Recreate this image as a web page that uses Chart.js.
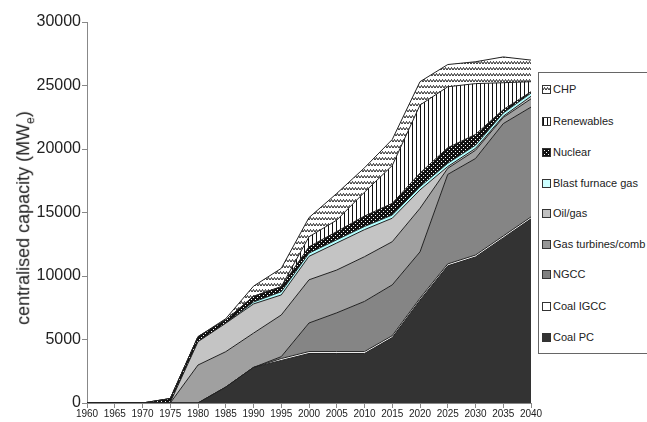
<!DOCTYPE html>
<html>
<head>
<meta charset="utf-8">
<script src="https://cdn.jsdelivr.net/npm/chart.js@4.4.0/dist/chart.umd.min.js"></script>
<style>
body { margin: 0; width: 647px; height: 422px; overflow: hidden; background: #fff; font-family: "Liberation Sans", Arial, sans-serif; }
#wrap { position: relative; width: 647px; height: 422px; }
#ytitle { position: absolute; left: 25px; top: 218px; transform: translate(-50%, -50%) rotate(-90deg); white-space: nowrap; font-size: 18px; color: #222; }
#ytitle sub { font-size: 12px; }
#legend { position: absolute; left: 538px; top: 72px; width: 140px; height: 280px; border: 1px solid #666; background: #fff; }
.item { position: absolute; left: 3px; height: 12px; font-size: 11px; line-height: 12px; color: #222; white-space: nowrap; }
.sw { display: inline-block; width: 7px; height: 7px; border: 1px solid #333; margin-right: 2px; vertical-align: -1px; }
</style>
</head>
<body>
<div id="wrap">
  <canvas id="myChart" width="647" height="422"></canvas>
  <div id="ytitle">centralised capacity (MW<sub>e</sub>)</div>
  <div id="legend"></div>
</div>
<script>
// data (MWe per category, stacked bottom to top)
var years = ["1960", "1965", "1970", "1975", "1980", "1985", "1990", "1995", "2000", "2005", "2010", "2015", "2020", "2025", "2030", "2035", "2040"];
var coalPC       = [0, 0, 0, 0, 0, 1250, 2800, 3350, 3900, 3900, 3900, 5150, 8100, 10800, 11500, 13000, 14500];
var coalIGCC     = [0, 0, 0, 0, 0, 0, 0, 150, 150, 150, 150, 150, 150, 150, 150, 150, 150];
var ngcc         = [0, 0, 0, 0, 0, 0, 0, 150, 2250, 3050, 3950, 4000, 3650, 7050, 7600, 8850, 8650];
var gasTurbines  = [0, 0, 0, 0, 2990, 2790, 2700, 3280, 3400, 3370, 3520, 3400, 3430, 480, 650, 480, 650];
var oilGas       = [0, 0, 0, 50, 1840, 2240, 2300, 1580, 1850, 2130, 2130, 1850, 1450, 140, 150, 100, 200];
var blastFurnace = [0, 0, 0, 0, 0, 0, 150, 250, 250, 250, 250, 250, 250, 250, 250, 250, 250];
var nuclear      = [0, 0, 0, 300, 390, 260, 450, 400, 500, 650, 820, 920, 1070, 1230, 850, 270, 110];
var renewables   = [0, 0, 0, 0, 0, 0, 0, 0, 790, 900, 1880, 2980, 5360, 4800, 4000, 2120, 790];
var chp          = [0, 0, 0, 0, 0, 100, 800, 1440, 1510, 2100, 1920, 2050, 1840, 1750, 1720, 2030, 1700];
var yTicks = [0, 5000, 10000, 15000, 20000, 25000, 30000];

function makeTile(w, h, draw) {
  var c = document.createElement('canvas');
  c.width = w; c.height = h;
  draw(c.getContext('2d'), w, h);
  return c;
}

var waveTile = makeTile(6, 6, function(g, w, h) {
  g.fillStyle = '#fff'; g.fillRect(0, 0, w, h);
  g.strokeStyle = '#111'; g.lineWidth = 0.9;
  g.beginPath();
  g.moveTo(0, 4); g.lineTo(1.5, 1.5); g.lineTo(3, 4); g.lineTo(4.5, 1.5); g.lineTo(6, 4);
  g.stroke();
});
var stripeTile = makeTile(4, 4, function(g, w, h) {
  g.fillStyle = '#fff'; g.fillRect(0, 0, w, h);
  g.fillStyle = '#111'; g.fillRect(0, 0, 1, h);
});
var dotTile = makeTile(4, 4, function(g, w, h) {
  g.fillStyle = '#111'; g.fillRect(0, 0, w, h);
  g.fillStyle = '#fff'; g.fillRect(1, 1, 1, 1); g.fillRect(3, 3, 1, 1);
});

var ctx = document.getElementById("myChart");
var c2d = ctx.getContext('2d');
var wave = c2d.createPattern(waveTile, 'repeat');
var stripes = c2d.createPattern(stripeTile, 'repeat');
var dots = c2d.createPattern(dotTile, 'repeat');

var series = [
  { label: "Coal PC", data: coalPC, fill: '#333333', swatch: '#333333' },
  { label: "Coal IGCC", data: coalIGCC, fill: '#ffffff', swatch: '#ffffff' },
  { label: "NGCC", data: ngcc, fill: '#858585', swatch: '#808080' },
  { label: "Gas turbines/comb", data: gasTurbines, fill: '#a0a0a0', swatch: '#969696' },
  { label: "Oil/gas", data: oilGas, fill: '#c4c4c4', swatch: '#c0c0c0' },
  { label: "Blast furnace gas", data: blastFurnace, fill: '#b3ffff', swatch: '#ccffff' },
  { label: "Nuclear", data: nuclear, fill: dots, swatch: 'url(' + dotTile.toDataURL() + ')' },
  { label: "Renewables", data: renewables, fill: stripes, swatch: 'url(' + stripeTile.toDataURL() + ')' },
  { label: "CHP", data: chp, fill: wave, swatch: 'url(' + waveTile.toDataURL() + ')' }
];

var datasets = series.map(function(s, i) {
  return {
    label: s.label,
    data: s.data,
    backgroundColor: s.fill,
    borderColor: '#222',
    borderWidth: 1,
    pointRadius: 0,
    tension: 0,
    fill: i === 0 ? 'origin' : '-1'
  };
});

var myChart = new Chart(ctx, {
  type: 'line',
  data: { labels: years, datasets: datasets },
  options: {
    responsive: false,
    animation: false,
    layout: { padding: { left: 0, right: 116, top: 22, bottom: 0 } },
    plugins: { legend: { display: false }, tooltip: { enabled: false } },
    scales: {
      x: {
        offset: false,
        grid: { display: true, drawOnChartArea: false, tickLength: 5, color: '#888' },
        border: { color: '#888' },
        ticks: { color: '#222', font: { size: 10, family: 'Liberation Sans' }, maxRotation: 0, autoSkip: false, padding: 0 },
        afterFit: function(s) { s.height = 19; }
      },
      y: {
        stacked: true,
        min: 0,
        max: 30000,
        afterBuildTicks: function(s) { s.ticks = yTicks.map(function(v) { return { value: v }; }); },
        grid: { display: true, drawOnChartArea: false, tickLength: 5, color: '#888' },
        border: { color: '#888' },
        ticks: {
          color: '#222',
          font: { size: 16, family: 'Liberation Sans' },
          padding: 1,
          callback: function(v) { return String(v); }
        },
        afterFit: function(s) { s.width = 87; }
      }
    }
  }
});

// legend, top entry is the top of the stack
var legend = document.getElementById('legend');
var rowTops = [10, 42, 73, 104, 134, 165, 195, 227, 258];
series.slice().reverse().forEach(function(s, i) {
  var item = document.createElement('div');
  item.className = 'item';
  item.style.top = rowTops[i] + 'px';
  var sw = document.createElement('span');
  sw.className = 'sw';
  sw.style.background = s.swatch;
  item.appendChild(sw);
  item.appendChild(document.createTextNode(s.label));
  legend.appendChild(item);
});
</script>
</body>
</html>
